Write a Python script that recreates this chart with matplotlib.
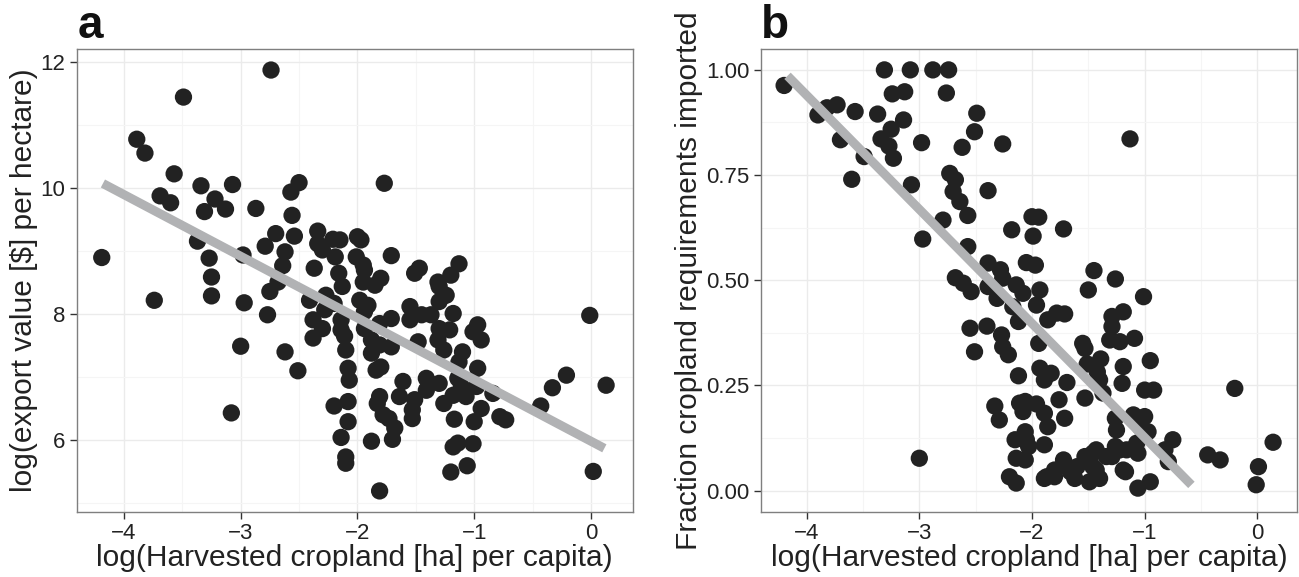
import matplotlib
matplotlib.use("Agg")
import matplotlib.pyplot as plt
from matplotlib.ticker import MultipleLocator, FormatStrFormatter
import numpy as np

plt.rcParams['font.family'] = ['Liberation Sans', 'DejaVu Sans']

# ---------------- Panel a data: log cropland per capita vs log export value per ha
a_x = [-2.74, -3.49, -3.89, -3.82, -3.57, -3.34, -3.07, -3.69, -3.60, -3.22, -3.13, -3.31, -2.87,
       -2.50, -2.57, -2.56, -2.70, -2.54, -2.79, -2.62, -2.64, -2.34, -2.34, -2.21, -2.15, -2.30,
       -2.19, -2.37, -2.16, -4.19, -3.37, -3.27, -2.98, -3.25, -1.77, -2.00, -1.97, -1.71, -2.01,
       -1.94, -1.80, -1.47, -1.51, -1.13, -1.20, -1.31, -3.74, -3.25, -2.97, -2.68, -2.75, -2.77,
       -3.00, -2.62, -2.51, -3.08, -2.41, -2.27, -2.28, -2.38, -2.38, -2.30, -2.13, -2.20, -2.14,
       -2.10, -2.08, -2.07, -2.20, -2.08, -2.08, -2.14, -2.10, -2.10, -1.95, -1.85, -1.30, -1.24,
       -1.30, -1.98, -1.91, -1.94, -2.14, -2.11, -1.94, -1.88, -1.88, -1.81, -1.71, -1.71, -1.55,
       -1.55, -1.45, -1.37, -1.18, -1.30, -1.21, -1.48, -1.31, -1.26, -1.10, -0.97, -1.01, -0.94,
       -1.13, -0.97, -1.84, -1.80, -1.61, -1.41, -1.30, -1.41, -1.14, -0.98, -1.11, -0.84, -1.18,
       -1.07, -1.26, -1.81, -1.83, -1.64, -1.51, -1.53, -1.53, -1.78, -1.73, -1.68, -1.70, -1.88,
       -1.81, -1.17, -0.94, -1.00, -0.78, -0.73, -1.18, -1.14, -1.01, -1.20, -1.06, -0.43, -0.33,
       -0.21, -0.01, 0.13, 0.02, -1.95, -1.81]
a_y = [11.88, 11.45, 10.78, 10.56, 10.23, 10.04, 10.06, 9.88, 9.77, 9.83, 9.67, 9.63, 9.68,
       10.09, 9.94, 9.57, 9.28, 9.24, 9.08, 8.99, 8.77, 9.32, 9.12, 9.19, 9.18, 9.02,
       8.91, 8.73, 8.65, 8.90, 9.16, 8.89, 8.94, 8.59, 10.08, 9.23, 9.18, 8.93, 8.91,
       8.70, 8.57, 8.73, 8.65, 8.80, 8.62, 8.51, 8.22, 8.29, 8.18, 8.51, 8.36, 7.99,
       7.49, 7.40, 7.10, 6.43, 8.22, 8.30, 8.07, 7.91, 7.62, 7.77, 8.44, 8.17, 7.75,
       7.43, 7.14, 6.95, 6.54, 6.61, 6.29, 6.04, 5.73, 5.63, 8.51, 8.46, 8.44, 8.30,
       8.20, 8.22, 8.14, 8.04, 7.91, 7.65, 7.77, 7.59, 7.38, 7.85, 7.93, 7.48, 8.12,
       7.91, 7.99, 7.99, 8.01, 7.77, 7.75, 7.56, 7.59, 7.43, 7.40, 7.83, 7.72, 7.59,
       7.24, 7.14, 7.11, 7.16, 6.93, 6.98, 6.90, 6.79, 6.98, 6.85, 6.85, 6.74, 6.71,
       6.69, 6.58, 6.69, 6.58, 6.69, 6.64, 6.48, 6.34, 6.40, 6.34, 6.19, 6.01, 5.98,
       5.19, 6.33, 6.50, 6.29, 6.37, 6.32, 5.89, 5.95, 5.94, 5.49, 5.59, 6.54, 6.83,
       7.03, 7.98, 6.87, 5.50, 8.78, 7.51]

# fitted line for panel a (intercept, slope, x-range)
a_fit_intercept = 5.98
a_fit_slope = -0.98
a_fit_xrange = [-4.18, 0.115]

# ---------------- Panel b data: log cropland per capita vs fraction imported
b_x = [-4.20, -3.90, -3.82, -3.73, -3.57, -3.37, -3.70, -3.49, -3.60, -3.31, -3.08, -2.88, -2.74,
       -3.24, -3.13, -2.76, -3.14, -3.25, -3.34, -3.27, -3.23, -2.98, -3.07, -2.49, -2.51, -2.62,
       -2.26, -2.73, -2.68, -2.70, -2.64, -2.57, -2.79, -2.39, -2.97, -2.18, -2.57, -2.39, -2.68,
       -1.13, -2.00, -1.94, -1.99, -1.72, -2.05, -1.97, -1.45, -1.26, -2.28, -2.26, -2.61, -2.54,
       -2.39, -2.31, -2.14, -2.17, -2.55, -2.40, -2.27, -2.26, -2.21, -2.51, -2.12, -2.33, -2.29,
       -2.11, -2.15, -2.14, -2.20, -2.14, -3.00, -2.08, -1.93, -1.96, -2.12, -1.86, -1.78, -1.71,
       -1.50, -1.94, -1.55, -1.53, -1.29, -1.29, -1.19, -1.31, -1.22, -1.93, -1.89, -1.83, -1.69,
       -1.76, -1.51, -1.39, -1.42, -1.40, -1.19, -1.20, -1.53, -1.37, -2.06, -1.96, -2.08, -1.89,
       -1.86, -1.71, -2.06, -2.03, -1.89, -2.06, -1.89, -1.80, -1.72, -1.66, -1.62, -1.50, -1.46,
       -1.49, -1.40, -1.34, -1.22, -1.26, -1.25, -1.19, -1.01, -1.09, -0.95, -1.00, -0.92, -1.10,
       -1.00, -1.04, -0.97, -0.75, -0.82, -1.43, -1.29, -1.16, -1.06, -1.43, -1.17, -1.06, -0.95,
       -0.79, -0.44, -0.33, -0.20, 0.01, -0.01, 0.14, -1.87, -1.80, -1.60, -1.53, -1.46, -1.26,
       -1.07, -2.05]
b_y = [0.963, 0.893, 0.910, 0.917, 0.901, 0.895, 0.834, 0.794, 0.740, 1.000, 1.000, 1.000, 1.000,
       0.943, 0.948, 0.945, 0.881, 0.859, 0.836, 0.819, 0.790, 0.827, 0.727, 0.897, 0.853, 0.816,
       0.824, 0.754, 0.739, 0.711, 0.687, 0.654, 0.643, 0.713, 0.598, 0.620, 0.580, 0.541, 0.506,
       0.836, 0.651, 0.650, 0.605, 0.622, 0.542, 0.536, 0.523, 0.503, 0.525, 0.505, 0.493, 0.473,
       0.485, 0.457, 0.489, 0.437, 0.386, 0.391, 0.370, 0.342, 0.323, 0.330, 0.273, 0.201, 0.168,
       0.208, 0.121, 0.077, 0.033, 0.018, 0.077, 0.469, 0.477, 0.441, 0.402, 0.406, 0.422, 0.420,
       0.477, 0.350, 0.350, 0.338, 0.414, 0.390, 0.425, 0.358, 0.354, 0.291, 0.263, 0.279, 0.257,
       0.216, 0.301, 0.313, 0.282, 0.263, 0.295, 0.255, 0.220, 0.232, 0.212, 0.206, 0.188, 0.184,
       0.152, 0.172, 0.140, 0.105, 0.109, 0.073, 0.029, 0.049, 0.073, 0.045, 0.029, 0.073, 0.057,
       0.021, 0.029, 0.081, 0.097, 0.172, 0.144, 0.049, 0.461, 0.362, 0.309, 0.239, 0.239, 0.180,
       0.176, 0.152, 0.140, 0.121, 0.097, 0.097, 0.081, 0.097, 0.089, 0.049, 0.045, 0.006, 0.021,
       0.069, 0.085, 0.073, 0.243, 0.057, 0.014, 0.115, 0.033, 0.033, 0.057, 0.081, 0.089, 0.105,
       0.113, 0.121]

# fitted line for panel b
b_fit_intercept = -0.145
b_fit_slope = -0.2712
b_fit_xrange = [-4.17, -0.585]

x_label = "log(Harvested cropland [ha] per capita)"
a_ylabel = "log(export value [$] per hectare)"
b_ylabel = "Fraction cropland requirements imported"

fig = plt.figure(figsize=(12.99, 5.77), dpi=100)
ax_a = fig.add_axes([0.0590, 0.1132, 0.4280, 0.8014])
ax_b = fig.add_axes([0.5856, 0.1132, 0.4131, 0.8014])

pt_color = '#222222'
line_color = '#b1b2b4'
border = '#7f7f7f'
text_color = '#222222'


def style(ax):
    ax.set_facecolor('white')
    ax.grid(True, which='major', color='#ebebeb', linewidth=1.0, zorder=0)
    ax.grid(True, which='minor', color='#f5f5f5', linewidth=0.8, zorder=0)
    ax.set_axisbelow(True)
    for sp in ax.spines.values():
        sp.set_color(border)
        sp.set_linewidth(1.0)
    ax.tick_params(which='major', direction='out', length=5, width=1.0,
                   color='#333333', labelsize=16, labelcolor=text_color, pad=3)
    ax.tick_params(which='minor', length=0)


# panel a
ax_a.scatter(a_x, a_y, s=155, color=pt_color, edgecolors='none', zorder=2)
xa = np.array(a_fit_xrange)
ax_a.plot(xa, a_fit_intercept + a_fit_slope * xa, color=line_color, linewidth=6.5,
          solid_capstyle='butt', zorder=3)
ax_a.set_xlim(-4.405, 0.357)
ax_a.set_ylim(4.86, 12.21)
ax_a.xaxis.set_major_locator(MultipleLocator(1))
ax_a.xaxis.set_minor_locator(MultipleLocator(0.5))
ax_a.yaxis.set_major_locator(MultipleLocator(2))
ax_a.yaxis.set_minor_locator(MultipleLocator(1))
style(ax_a)
ax_a.set_xlabel(x_label, fontsize=21.5, color=text_color, labelpad=0)
ax_a.set_ylabel(a_ylabel, fontsize=21.5, color=text_color, labelpad=2)

# panel b
ax_b.scatter(b_x, b_y, s=155, color=pt_color, edgecolors='none', zorder=2)
xb = np.array(b_fit_xrange)
ax_b.plot(xb, b_fit_intercept + b_fit_slope * xb, color=line_color, linewidth=6.5,
          solid_capstyle='butt', zorder=3)
ax_b.set_xlim(-4.408, 0.355)
ax_b.set_ylim(-0.05, 1.049)
ax_b.xaxis.set_major_locator(MultipleLocator(1))
ax_b.xaxis.set_minor_locator(MultipleLocator(0.5))
ax_b.yaxis.set_major_locator(MultipleLocator(0.25))
ax_b.yaxis.set_minor_locator(MultipleLocator(0.125))
ax_b.yaxis.set_major_formatter(FormatStrFormatter('%.2f'))
style(ax_b)
ax_b.set_xlabel(x_label, fontsize=21.5, color=text_color, labelpad=0)
ax_b.set_ylabel(b_ylabel, fontsize=21.5, color=text_color, labelpad=2)

fig.text(0.060, 0.934, 'a', fontsize=33, fontweight='bold', color='#111111', va='baseline')
fig.text(0.586, 0.934, 'b', fontsize=33, fontweight='bold', color='#111111', va='baseline')

fig.savefig('out.png', dpi=100, facecolor='white')
